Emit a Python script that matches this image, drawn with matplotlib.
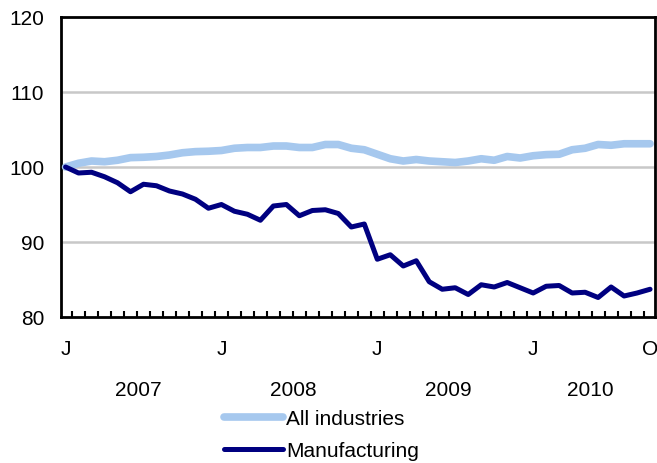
import matplotlib
matplotlib.use("Agg")
import matplotlib.pyplot as plt
import numpy as np

plt.rcParams['font.family'] = ['Liberation Sans', 'DejaVu Sans']

months = list(range(46))  # Jan 2007 .. Oct 2010
all_industries = [100.0, 100.5, 100.8, 100.7, 100.9, 101.25, 101.3, 101.4, 101.6, 101.9,
                  102.05, 102.1, 102.2, 102.5, 102.6, 102.6, 102.8, 102.8, 102.6, 102.6,
                  103.0, 103.0, 102.5, 102.3, 101.7, 101.1, 100.8, 101.0, 100.8, 100.7,
                  100.6, 100.8, 101.1, 100.9, 101.4, 101.2, 101.5, 101.65, 101.7, 102.3,
                  102.5, 103.0, 102.9, 103.1, 103.1, 103.1]
manufacturing = [100.0, 99.2, 99.3, 98.7, 97.9, 96.7, 97.7, 97.5, 96.8, 96.4,
                 95.7, 94.5, 95.0, 94.1, 93.7, 92.9, 94.8, 95.0, 93.5, 94.2,
                 94.3, 93.8, 92.0, 92.4, 87.7, 88.3, 86.8, 87.5, 84.7, 83.7,
                 83.9, 83.0, 84.3, 84.0, 84.6, 83.9, 83.2, 84.1, 84.2, 83.2,
                 83.3, 82.6, 84.0, 82.8, 83.2, 83.7]
month_tick_pos = [0, 12, 24, 36, 45]
month_tick_labels = ['J', 'J', 'J', 'J', 'O']
years = ['2007', '2008', '2009', '2010']
year_pos = [5.6, 17.5, 29.5, 40.4]
yticks = [80, 90, 100, 110, 120]

FS = 15

fig = plt.figure(figsize=(6.57, 4.64), dpi=100)
ax = fig.add_axes([61/657, 1-318/464, (655-61)/657, 300/464])

ax.plot(months, all_industries, color='#A6C8EE', lw=5.5, solid_capstyle='round',
        solid_joinstyle='round', label='All industries', zorder=3)
ax.plot(months, manufacturing, color='#000080', lw=3.6, solid_capstyle='round',
        solid_joinstyle='round', label='Manufacturing', zorder=4)

ax.set_ylim(80, 120)
ax.set_xlim(-0.35, 45.38)
ax.set_yticks(yticks)
ax.set_yticklabels([str(v) for v in yticks], fontsize=FS)
ax.tick_params(axis='y', length=0, pad=12)
for v in [90, 100, 110]:
    ax.axhline(v, color='#C8C8C8', lw=1.8, zorder=1)

ax.set_xticks(month_tick_pos)
ax.set_xticklabels(month_tick_labels, fontsize=FS)
ax.tick_params(axis='x', which='major', length=0, pad=16)
ax.set_xticks(np.arange(0.5, 45, 1.0), minor=True)
ax.tick_params(axis='x', which='minor', direction='in', length=4, width=1.5, color='black')

for sp in ax.spines.values():
    sp.set_linewidth(2)
    sp.set_color('black')

for y, p in zip(years, year_pos):
    ax.text(p, -0.243, y, transform=ax.get_xaxis_transform(), ha='center', va='center',
            fontsize=FS)

leg = fig.legend(loc='upper left', bbox_to_anchor=(224/657, 1-410/464), frameon=False,
                 fontsize=FS, handlelength=2.85, handletextpad=0.12, labelspacing=0.62,
                 borderpad=0, borderaxespad=0)

fig.savefig('out.png', dpi=100)
